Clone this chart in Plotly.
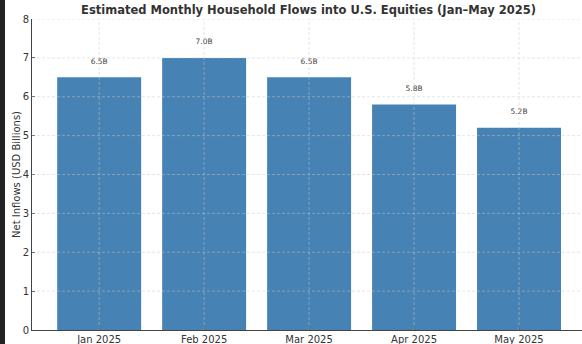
import plotly.graph_objects as go

months = ["Jan 2025", "Feb 2025", "Mar 2025", "Apr 2025", "May 2025"]
inflows = [6.5, 7.0, 6.5, 5.8, 5.2]
labels = ["6.5B", "7.0B", "6.5B", "5.8B", "5.2B"]
y_ticks = [0, 1, 2, 3, 4, 5, 6, 7, 8]
label_offset = 0.4

FONT = "DejaVu Sans"
L, R, T, B = 32, 0, 19, 14
W, H = 582, 344
PW = W - L - R

fig = go.Figure()
fig.add_trace(go.Bar(
    x=list(range(len(months))), y=inflows, width=0.8,
    marker=dict(color="#4682B4", line=dict(width=0)),
    hoverinfo="skip", showlegend=False,
))
fig.add_trace(go.Scatter(
    x=list(range(len(months))), y=[v + label_offset for v in inflows],
    mode="text", text=labels, textposition="middle center",
    textfont=dict(family=FONT, size=7.5, color="#444444"),
    hoverinfo="skip", showlegend=False,
))

shapes = []
grid_style = dict(color="rgba(200,200,200,0.6)", width=0.8, dash="3px,2px")
for yv in y_ticks[1:]:
    shapes.append(dict(type="line", xref="paper", yref="y", x0=0, x1=1, y0=yv, y1=yv,
                       line=grid_style, layer="above"))
for i in range(len(months)):
    shapes.append(dict(type="line", xref="x", yref="paper", x0=i, x1=i, y0=0, y1=1,
                       line=grid_style, layer="above"))
# dark strip at the left edge of the image
shapes.append(dict(type="rect", xref="paper", yref="paper",
                   x0=-L / PW, x1=-(L - 5) / PW, y0=-B / (H - T - B), y1=1 + T / (H - T - B),
                   fillcolor="#222222", line=dict(width=0), layer="above"))

fig.update_layout(
    width=W, height=H,
    margin=dict(l=L, r=R, t=T, b=B, autoexpand=False),
    paper_bgcolor="white", plot_bgcolor="white",
    font=dict(family=FONT, size=10, color="#333333"),
    title=dict(text="<b>Estimated Monthly Household Flows into U.S. Equities (Jan–May 2025)</b>",
               x=308.5 / W, xanchor="center", y=1 - 10 / H, yanchor="middle",
               font=dict(family=FONT, size=11.5, color="#333333")),
    xaxis=dict(range=[-0.64, 4.6], tickvals=list(range(len(months))), ticktext=months,
               showgrid=False, zeroline=False, showline=True, linecolor="#444444", linewidth=1,
               ticks="inside", ticklen=3, tickcolor="#444444", automargin=False,
               tickfont=dict(size=10, color="#333333")),
    yaxis=dict(range=[0, 8], tickvals=y_ticks, showgrid=False, zeroline=False,
               showline=True, linecolor="#444444", linewidth=1,
               ticks="inside", ticklen=3, tickcolor="#444444", automargin=False,
               tickfont=dict(size=10, color="#333333"),
               title=dict(text="Net Inflows (USD Billions)", font=dict(size=10, color="#333333"),
                          standoff=0)),
    shapes=shapes,
    bargap=0.2,
)

fig.write_html("out.html")
